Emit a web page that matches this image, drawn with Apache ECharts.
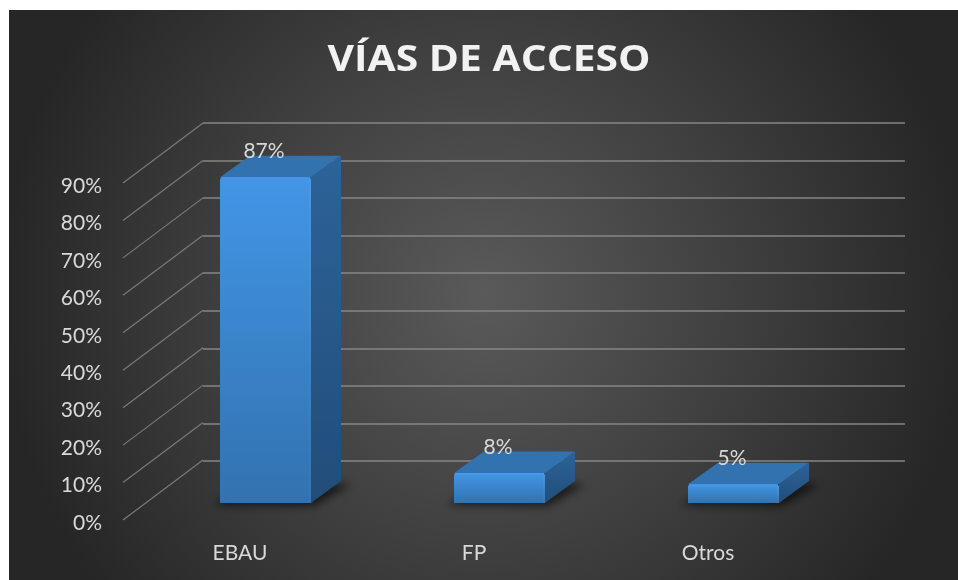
<!DOCTYPE html>
<html><head><meta charset="utf-8">
<style>html,body{margin:0;padding:0;background:#fff}#c{width:958px;height:580px}</style>
<script src="https://cdn.jsdelivr.net/npm/echarts@6/dist/echarts.min.js"></script>
</head><body><div id="c"></div>
<script>
const chartTitle = 'VÍAS DE ACCESO';
const categories = ['EBAU', 'FP', 'Otros'];
const shares = [87, 8, 5];
const tickValues = [0, 10, 20, 30, 40, 50, 60, 70, 80, 90];

const WALL_DX = 80, WALL_DY = -60;    // depth of the chart floor
const BAR_DX = 30, BAR_DY = -22;      // depth of a bar
const GAP_DX = 25, GAP_DY = -17;      // bar offset from the front edge
const TEXT = '#d9d9d9';
const FAR = 3000;                     // shadow casters are drawn off-screen

function vGrad(a, b) {
  return { type: 'linear', x: 0, y: 0, x2: 0, y2: 1, colorStops: [{ offset: 0, color: a }, { offset: 1, color: b }] };
}
function renderWall(params, api) {
  const p = api.coord([0, api.value(0)]);
  const x = params.coordSys.x;
  return { type: 'line', shape: { x1: x, y1: p[1], x2: x + WALL_DX, y2: p[1] + WALL_DY },
    style: { stroke: '#7a7a7a', lineWidth: 1.2 } };
}
function renderBar(params, api) {
  const c = api.coord([api.value(0), api.value(1)]);
  const o = api.coord([api.value(0), 0]);
  const w = 91;
  const xl = c[0] - w / 2 + GAP_DX + 0.5, xr = xl + w;
  const yb = o[1] + GAP_DY, yt = c[1] + GAP_DY;
  const dx = BAR_DX, dy = BAR_DY;
  const shadow = {
    type: 'polygon',
    shape: { points: [[xl - 7 - FAR, yb + 1], [xr + 3 - FAR, yb + 2], [xr + dx + 11 - FAR, yb + dy + 2], [xl + dx - FAR, yb + dy]] },
    style: { fill: '#000', shadowBlur: 9, shadowColor: 'rgba(0,0,0,0.62)', shadowOffsetX: FAR, shadowOffsetY: 1 }
  };
  const topFace = { type: 'polygon', shape: { points: [[xl, yt], [xl + dx, yt + dy + 0.5], [xr + dx, yt + dy + 0.5], [xr, yt]] },
    style: { fill: '#3273af' } };
  return { type: 'group', children: [
    shadow,
    topFace,
    { type: 'polygon', shape: { points: [[xr, yb], [xr + dx, yb + dy], [xr + dx, yt + dy + 0.5], [xr, yt]] },
      style: { fill: vGrad('#2d6399', '#214d79') } },
    { type: 'rect', shape: { x: xl, y: yt, width: w, height: yb - yt, r: [3, 3, 0, 0] },
      style: { fill: vGrad('#4296e6', '#3272b0') } },
    { type: 'rect', shape: { x: xr - 2, y: yt + 2, width: 2, height: yb - yt - 2 },
      style: { fill: vGrad('#4599ea', '#3475b5') } },
    { type: 'rect', shape: { x: xl + 1, y: yt, width: w - 2, height: 2 }, style: { fill: '#4599ea' } },
    { type: 'text', style: { text: api.value(1) + '%', x: c[0] + GAP_DX - 1, y: yt - 26,
        fill: TEXT, font: '21px Lato', align: 'center', verticalAlign: 'middle' } }
  ] };
}

const chart = echarts.init(document.getElementById('c'), null, { renderer: 'canvas' });
chart.setOption({
  animation: false,
  graphic: [{
    type: 'rect', z: -10, silent: true,
    shape: { x: 9, y: 10, width: 949, height: 570 },
    style: { fill: { type: 'radial', x: 0.5, y: 0.5, r: 0.85, colorStops: [
      { offset: 0, color: '#5a5a5a' }, { offset: 0.55, color: '#3e3e3e' }, { offset: 1, color: '#262626' } ] } }
  }, {
    type: 'text', z: 10, silent: true, x: 489, y: 61, scaleX: 1.134, scaleY: 1,
    style: { text: chartTitle, fill: '#f2f2f2', font: 'bold 36px "Open Sans"', align: 'center', verticalAlign: 'middle',
      shadowColor: 'rgba(0,0,0,0.75)', shadowBlur: 4, shadowOffsetX: 1, shadowOffsetY: 2 }
  }],
  grid: [
    { left: 123, top: 183, width: 702, height: 337 },
    { left: 203, top: 123, width: 702, height: 338 },
    { left: 123, top: 186, width: 702, height: 337 }
  ],
  xAxis: [
    { gridIndex: 0, type: 'category', data: categories, axisLine: { show: false }, axisTick: { show: false },
      axisLabel: { color: TEXT, fontFamily: 'Lato', fontSize: 21, margin: 23 } },
    { gridIndex: 1, type: 'category', data: categories, show: false },
    { gridIndex: 2, type: 'category', data: categories, show: false }
  ],
  yAxis: [
    { gridIndex: 0, type: 'value', min: 0, max: 90, interval: 10, show: false },
    { gridIndex: 1, type: 'value', min: 0, max: 90, interval: 10, axisLine: { show: false }, axisTick: { show: false },
      axisLabel: { show: false }, splitLine: { lineStyle: { color: '#868686', width: 1.5 } } },
    { gridIndex: 2, type: 'value', min: 0, max: 90, interval: 10, splitLine: { show: false },
      axisLine: { show: false }, axisTick: { show: false },
      axisLabel: { color: TEXT, fontFamily: 'Lato', fontSize: 21, margin: 21, formatter: '{value}%' } }
  ],
  series: [
    { type: 'custom', xAxisIndex: 0, yAxisIndex: 0, data: tickValues.map(v => [v]), renderItem: renderWall,
      encode: { y: 0 }, silent: true, clip: false, z: 1 },
    { type: 'custom', xAxisIndex: 0, yAxisIndex: 0, data: categories.map((c, i) => [i, shares[i]]),
      renderItem: renderBar, encode: { x: 0, y: 1 }, silent: true, clip: false, z: 5 }
  ]
});
</script></body></html>
